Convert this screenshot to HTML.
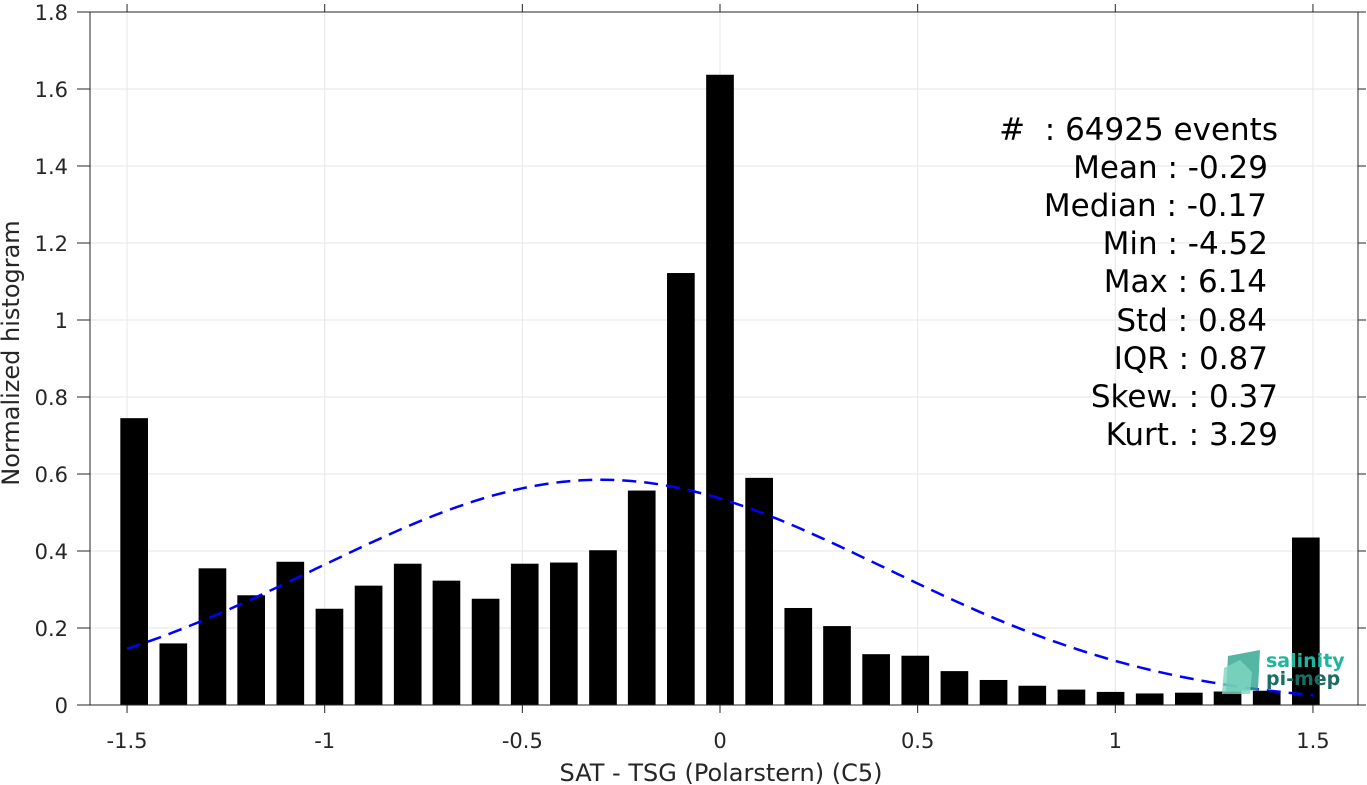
<!DOCTYPE html>
<html><head><meta charset="utf-8"><style>
body{margin:0;background:#fff;}
svg{display:block;font-family:"DejaVu Sans","Liberation Sans",sans-serif;}
</style></head><body>
<svg id="chart" width="1367" height="785">
<g id="grid"></g>
<g id="bars"></g>
<path id="fit" fill="none" stroke="#0000ff" stroke-width="2.5" stroke-dasharray="14,8"/>
<g id="axes"></g>
<text x="721" y="781" text-anchor="middle" font-size="24" fill="#262626">SAT - TSG (Polarstern) (C5)</text>
<text transform="translate(19,353) rotate(-90)" text-anchor="middle" font-size="24" fill="#262626">Normalized histogram</text>
<g font-size="31" fill="#000" text-anchor="end">
<text x="1278" y="140" xml:space="preserve">#  : 64925 events</text>
<text x="1268" y="178">Mean : -0.29</text>
<text x="1267" y="216">Median : -0.17</text>
<text x="1268" y="254">Min : -4.52</text>
<text x="1267" y="292">Max : 6.14</text>
<text x="1267" y="331">Std : 0.84</text>
<text x="1268" y="369">IQR : 0.87</text>
<text x="1278" y="407">Skew. : 0.37</text>
<text x="1278" y="445">Kurt. : 3.29</text>
</g>
<g id="axes-top"></g>
<script>
const centers=[-1.482,-1.383,-1.284,-1.186,-1.087,-0.988,-0.889,-0.790,-0.692,-0.593,-0.494,-0.395,-0.296,-0.198,-0.099,0,0.099,0.198,0.296,0.395,0.494,0.593,0.692,0.790,0.889,0.988,1.087,1.186,1.284,1.383,1.482];
const values=[0.745,0.16,0.355,0.285,0.372,0.25,0.31,0.367,0.323,0.276,0.367,0.37,0.402,0.557,1.122,1.637,0.59,0.252,0.205,0.132,0.128,0.088,0.065,0.05,0.04,0.034,0.03,0.032,0.035,0.037,0.435];
const xTicks=[-1.5,-1,-0.5,0,0.5,1,1.5];
const xTickLabels=["-1.5","-1","-0.5","0","0.5","1","1.5"];
const yTicks=[0,0.2,0.4,0.6,0.8,1,1.2,1.4,1.6,1.8];
const yTickLabels=["0","0.2","0.4","0.6","0.8","1","1.2","1.4","1.6","1.8"];
const fitMean=[-0.3];
const fitSigma=[0.72];
const fitPeak=[0.585];
</script>
<g>
<path d="M1226,692 L1228,656 L1260,650 L1258,690 Z" fill="#2aa58c" opacity="0.8"/>
<path d="M1222,694 L1224,668 L1240,660 L1252,672 L1250,694 Z" fill="#7fd6c0" opacity="0.8"/>
<text x="1266" y="667" font-size="19" font-weight="bold" fill="#1fb59a">salinity</text>
<text x="1266" y="685" font-size="19" font-weight="bold" fill="#1a6d62">pi-mep</text>
</g>
</svg>
<script>
const NS="http://www.w3.org/2000/svg";
const L=90,R=1358,T=12,B=705;
const xs=v=>720+v*395.3;
const ys=v=>B-(v/1.8)*(B-T);
function mk(tag,attrs,parent){const e=document.createElementNS(NS,tag);for(const k in attrs)e.setAttribute(k,attrs[k]);parent.appendChild(e);return e;}
const grid=document.getElementById('grid'),bars=document.getElementById('bars'),axes=document.getElementById('axes');
xTicks.forEach((t,i)=>{
 const g=mk('line',{x1:xs(t),x2:xs(t),y1:T,y2:B,stroke:'#e6e6e6','stroke-width':1},grid);
 
 
 mk('line',{x1:xs(t),x2:xs(t),y1:B,y2:B+8,stroke:'#262626'},axes);
 mk('line',{x1:xs(t),x2:xs(t),y1:T,y2:T-8,stroke:'#262626'},axes);
 const tx=mk('text',{x:xs(t),y:B+43,'text-anchor':'middle','font-size':21,fill:'#262626'},axes);
 tx.textContent=xTickLabels[i];
 
 
});
yTicks.forEach((t,i)=>{
 const g=mk('line',{x1:L,x2:R,y1:ys(t),y2:ys(t),stroke:'#e6e6e6','stroke-width':1},grid);
 
 
 mk('line',{x1:L-13,x2:L,y1:ys(t),y2:ys(t),stroke:'#262626'},axes);
 mk('line',{x1:R,x2:R+8,y1:ys(t),y2:ys(t),stroke:'#262626'},axes);
 const tx=mk('text',{x:L-22,y:ys(t)+8,'text-anchor':'end','font-size':21,fill:'#262626'},axes);
 tx.textContent=yTickLabels[i];
 
 
});
mk('rect',{x:L,y:T,width:R-L,height:B-T,fill:'none',stroke:'#262626','stroke-width':1},axes);
centers.forEach((c,i)=>{
 const w=0.07*395.3;
 const r=mk('rect',{x:xs(c)-w/2,y:ys(values[i]),width:w,height:B-ys(values[i]),fill:'#000'},bars);
 
 
});
let d='';
for(let k=0;k<=120;k++){const x=-1.5+3*k/120;const y=fitPeak[0]*Math.exp(-Math.pow(x-fitMean[0],2)/(2*fitSigma[0]*fitSigma[0]));d+=(k?'L':'M')+xs(x).toFixed(1)+','+ys(y).toFixed(1);}
document.getElementById('fit').setAttribute('d',d);
</script>
</body></html>
